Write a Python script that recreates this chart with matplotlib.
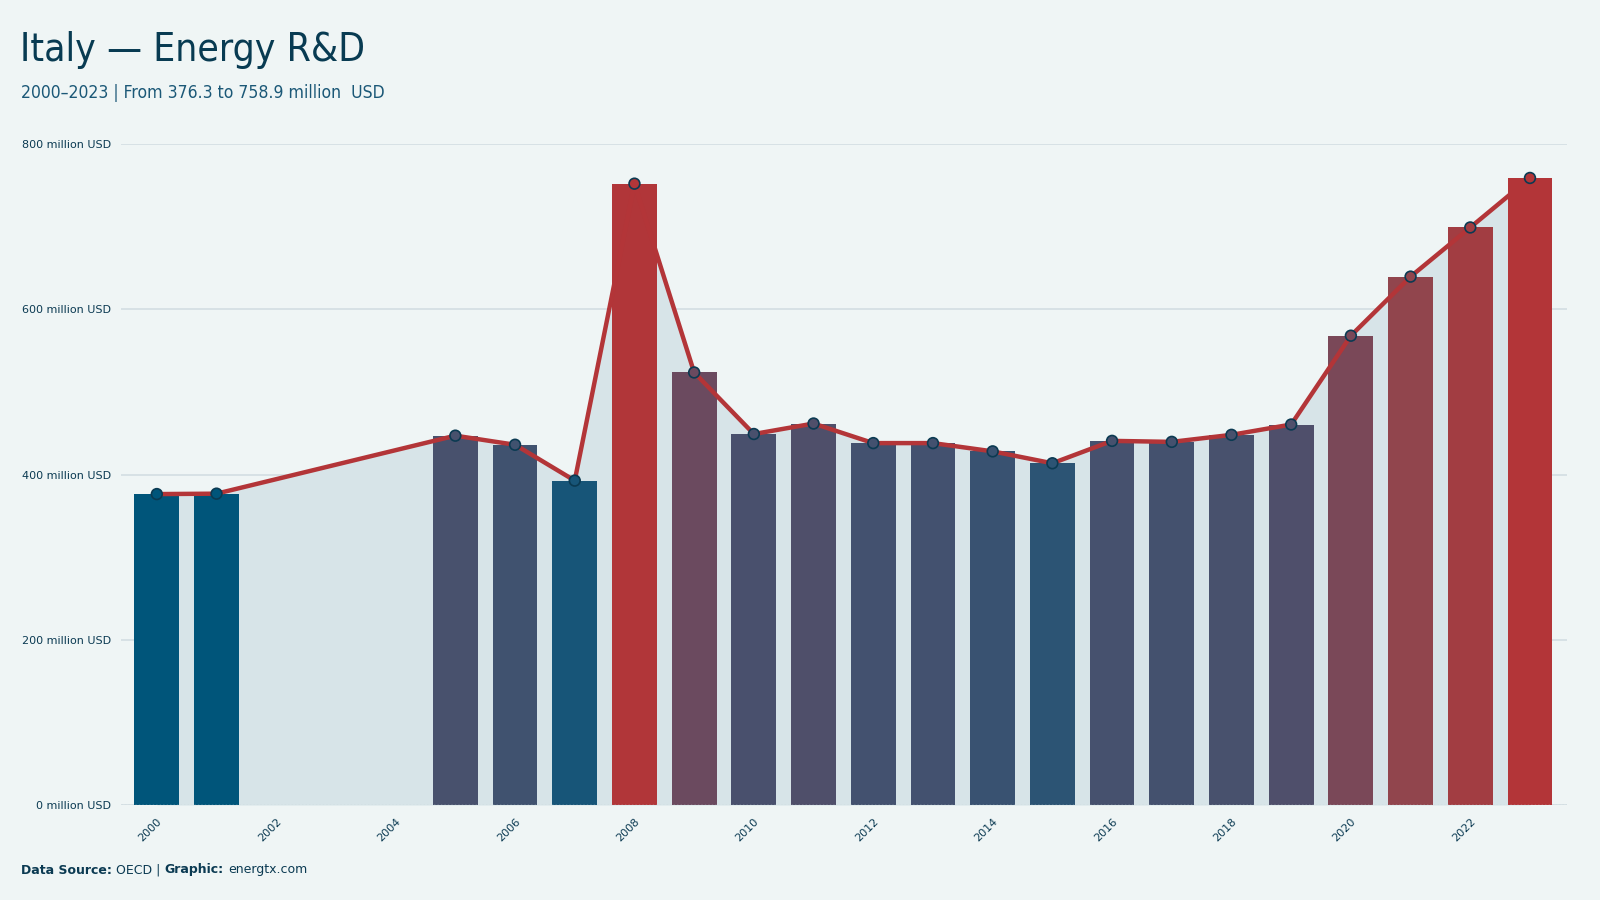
import matplotlib
matplotlib.use("Agg")
import matplotlib.pyplot as plt
import numpy as np
from matplotlib.colors import LinearSegmentedColormap, Normalize

years = [2000, 2001, 2005, 2006, 2007, 2008, 2009, 2010, 2011, 2012, 2013,
         2014, 2015, 2016, 2017, 2018, 2019, 2020, 2021, 2022, 2023]
values = [376.3, 376.8, 447.0, 436.0, 392.6, 752.0, 523.5, 449.0, 461.7, 438.0, 438.0,
          428.0, 413.6, 440.7, 439.5, 448.0, 460.5, 568.0, 639.5, 699.0, 758.9]
tick_years = list(range(2000, 2023, 2))
tick_labels = [str(y) for y in tick_years]
y_ticks = [0, 200, 400, 600, 800]
y_labels = [f"{v} million USD" for v in y_ticks]

BG = "#EFF5F5"
NAVY = "#0B3A52"
RED = "#B33538"
AREA = "#D7E4E8"
GRID = "#D3DEE2"

cmap = LinearSegmentedColormap.from_list(
    "br", [(0.0, "#00557A"), (0.05, "#1D5577"), (0.17, "#46516E"), (0.4, "#6E4A5E"),
           (0.7, "#92454C"), (1.0, RED)])
norm = Normalize(min(values), max(values))
colors = [cmap(norm(v)) for v in values]

fig = plt.figure(figsize=(16, 9), dpi=100, facecolor=BG)
ax = fig.add_axes([121 / 1600, 1 - 805 / 900, (1567 - 121) / 1600, (805 - 144) / 900])
ax.set_facecolor(BG)

ax.set_axisbelow(True)
ax.grid(axis="y", color=GRID, lw=1.2, zorder=0)
ax.fill_between(years, values, 0, color=AREA, zorder=1, lw=0)
ax.bar(years, values, width=0.75, color=colors, zorder=2)
ax.plot(years, values, color=RED, lw=3.2, zorder=3, solid_capstyle="round")
ax.scatter(years, values, s=60, c=colors, edgecolors=NAVY, linewidths=1.2, zorder=4)
ax.axhline(0, color="#C5D2D6", lw=1, ls=(0, (1, 1.5)), zorder=2.5)

ax.set_xlim(1999.4, 2023.62)
ax.set_ylim(0, 800)
ax.set_yticks(y_ticks)
ax.set_yticklabels(y_labels)
ax.set_xticks(tick_years)
ax.set_xticklabels(tick_labels, rotation=45, ha="right", rotation_mode="anchor")
ax.tick_params(axis="both", length=0, labelsize=8, labelcolor=NAVY)
ax.tick_params(axis="y", pad=7)
ax.tick_params(axis="x", pad=8)
for s in ax.spines.values():
    s.set_visible(False)

fig.text(20 / 1600, 1 - 50 / 900, "Italy — Energy R&D", fontsize=28, color="#083B52",
         family="DejaVu Sans", fontstretch="condensed", va="center", ha="left")
fig.text(21 / 1600, 1 - 93 / 900, "2000–2023 | From 376.3 to 758.9 million  USD",
         fontsize=12.6, color="#1B5877", family="DejaVu Sans", fontstretch="condensed",
         va="center", ha="left")

FS = 9
t1 = fig.text(21 / 1600, 1 - 870 / 900, "Data Source:", fontsize=FS, fontweight="bold",
              color=NAVY, va="center", ha="left")
fig.canvas.draw()
r = fig.canvas.get_renderer()
x = t1.get_window_extent(r).x1 + 4
t2 = fig.text(x / 1600, 1 - 870 / 900, "OECD |", fontsize=FS, color=NAVY, va="center", ha="left")
x = t2.get_window_extent(r).x1 + 4
t3 = fig.text(x / 1600, 1 - 870 / 900, "Graphic:", fontsize=FS, fontweight="bold",
              color=NAVY, va="center", ha="left")
x = t3.get_window_extent(r).x1 + 5
fig.text(x / 1600, 1 - 870 / 900, "energtx.com", fontsize=FS, color=NAVY, va="center", ha="left")

fig.savefig("out.png", dpi=100, facecolor=BG)
